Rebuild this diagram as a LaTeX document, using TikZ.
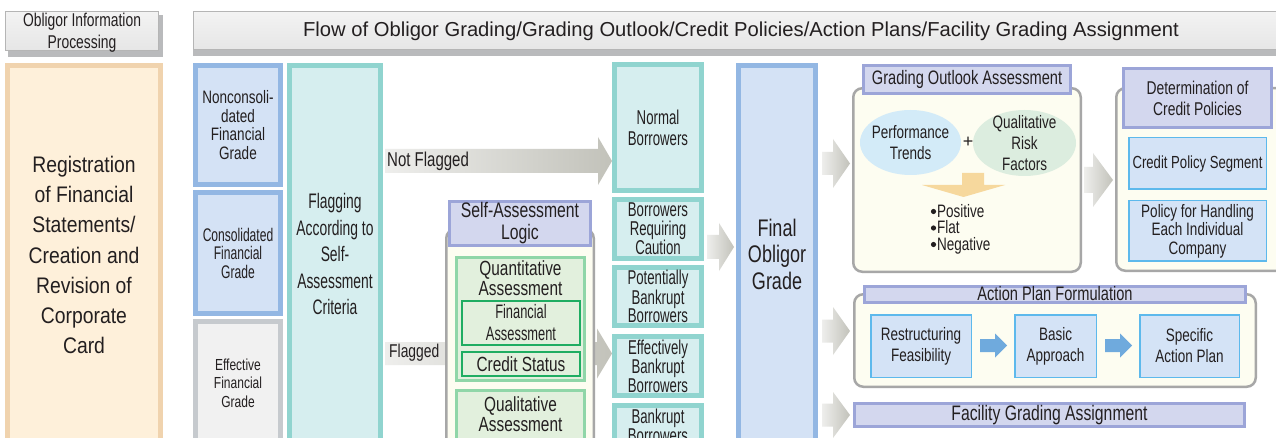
\documentclass[tikz,border=0pt]{standalone}
\usepackage{fontspec}
\setmainfont{Liberation Sans}
\newfontfamily\cnA[FakeStretch=0.86]{Liberation Sans}
\newfontfamily\cnB[FakeStretch=0.75]{Liberation Sans}
\newfontfamily\cnC[FakeStretch=0.66]{Liberation Sans}
\newcommand\fs[2]{\fontsize{#1}{#2}\selectfont}
\usetikzlibrary{calc,fit,shapes.geometric}
\definecolor{txt}{HTML}{231F20}
\definecolor{orB}{HTML}{F0D3AE}\definecolor{orF}{HTML}{FEF0DA}
\definecolor{blB}{HTML}{93B7E3}\definecolor{blF}{HTML}{D4E2F5}
\definecolor{grB}{HTML}{C6CACE}\definecolor{grF}{HTML}{F1F1F1}
\definecolor{tlB}{HTML}{90D4CF}\definecolor{tlF}{HTML}{D6EEEF}
\definecolor{lvB}{HTML}{9CA5D8}\definecolor{lvF}{HTML}{D3D7EE}
\definecolor{ctB}{HTML}{A7A7A7}\definecolor{ctF}{HTML}{FDFDF1}
\definecolor{gnB}{HTML}{90D6A8}\definecolor{gnF}{HTML}{E2F0DD}
\definecolor{dgB}{HTML}{1FAD62}
\definecolor{elB}{HTML}{D3EBF8}\definecolor{elG}{HTML}{DCEDDF}
\definecolor{dnA}{HTML}{F6D89D}
\definecolor{lbB}{HTML}{5DB9EC}\definecolor{lbF}{HTML}{D4E3F6}
\definecolor{baF}{HTML}{6FAADD}
\definecolor{hdT}{HTML}{F3F3F3}\definecolor{hdM}{HTML}{E6E6E6}
\definecolor{hdS}{HTML}{B9BABC}\definecolor{hdL}{HTML}{B5B5B5}
\definecolor{gA}{HTML}{EEEEEC}\definecolor{gB}{HTML}{C2C2BA}
% box by outer corners: inset, style, name, x0, y0, x1, y1
\newcommand\bx[7]{\node[#2, inner sep=0pt,
  fit={($(#4,#5)+(#1,#1)$) ($(#6,#7)-(#1,#1)$)}] (#3) {};}
% text centred in a named box: name, font, text
\newcommand\bt[3]{\node[tx, font={#2}] (#1-t) at (#1.center) {#3};}
% shaded block arrow: x0, xhead, xtip, ycentre, half body, half head
\newcommand\garr[6]{\shade[left color=gA, right color=gB]
  (#1,{#4-#5}) -- (#2,{#4-#5}) -- (#2,{#4-#6}) -- (#3,#4) -- (#2,{#4+#6})
  -- (#2,{#4+#5}) -- (#1,{#4+#5}) -- cycle;}
\newcommand\barr[6]{\fill[baF]
  (#1,{#4-#5}) -- (#2,{#4-#5}) -- (#2,{#4-#6}) -- (#3,#4) -- (#2,{#4+#6})
  -- (#2,{#4+#5}) -- (#1,{#4+#5}) -- cycle;}
\tikzset{
  every node/.style={text=txt},
  hdr/.style={draw=hdL, line width=1pt, top color=hdT, bottom color=hdM},
  orbox/.style={draw=orB, fill=orF, line width=5pt},
  bluebox/.style={draw=blB, fill=blF, line width=5pt},
  graybox/.style={draw=grB, fill=grF, line width=5pt},
  tealbox/.style={draw=tlB, fill=tlF, line width=5pt},
  lavbox/.style={draw=lvB, fill=lvF, line width=3pt},
  container/.style={draw=ctB, fill=ctF, line width=2.5pt, rounded corners=9pt},
  greenbox/.style={draw=gnB, fill=gnF, line width=3pt},
  dgreenbox/.style={draw=dgB, fill=gnF, line width=2pt},
  lbbox/.style={draw=lbB, fill=lbF, line width=1.5pt},
  tx/.style={align=center, inner sep=0pt},
  bulitem/.style={anchor=base west, inner sep=0pt, font={\cnB\fs{18}{18}}},
}
\begin{document}
\begin{tikzpicture}[x=1pt,y=-1pt]
\clip (0,0) rectangle (1276,438);
\fill[white] (0,0) rectangle (1276,438);
% ---- headers
\fill[hdS] (8,15) rectangle (163,57);
\bx{0.5}{hdr}{obhdr}{5}{11}{159}{51}
\node[tx, font={\cnB\fs{18.5}{22}}] (obhdr-t) at (82,33) {Obligor Information\\Processing};
\fill[hdS] (193,46) rectangle (1290,56);
\bx{0.5}{hdr}{mainhdr}{193}{11}{1290}{50}
\node[tx, font={\fs{20.2}{22}}] (maintxt) at (741,31) {Flow of Obligor Grading/Grading Outlook/Credit Policies/Action Plans/Facility Grading Assignment};
% ---- block arrows (behind boxes)
\garr{385}{598}{612}{161}{12}{24}
\garr{385}{597}{612}{353.5}{11.5}{25}
\garr{707}{719}{734}{247}{12}{24}
\garr{822}{833}{850}{163.5}{11.5}{24.5}
\garr{822}{833}{850}{331}{11.5}{24}
\garr{822}{833}{850}{415}{11.5}{23}
\garr{1084}{1093}{1113}{180}{13}{27}
% ---- left column
\bx{2.5}{orbox}{reg}{5}{63}{163}{470}
\node[tx, font={\cnA\fs{22.5}{30.3}}] (regtxt) at (84,255) {Registration\\of Financial\\Statements/\\Creation and\\Revision of\\Corporate\\Card};
\bx{2.5}{bluebox}{noncons}{193}{63}{283}{187}
\bt{noncons}{\cnB\fs{18}{18.5}}{Nonconsoli-\\dated\\Financial\\Grade}
\bx{2.5}{bluebox}{cons}{193}{190}{283}{316}
\bt{cons}{\cnC\fs{18.3}{18.5}}{Consolidated\\Financial\\Grade}
\bx{2.5}{graybox}{eff}{193}{319}{283}{470}
\node[tx, font={\cnB\fs{16}{18.5}}] (efftxt) at (238,383) {Effective\\Financial\\Grade};
\bx{2.5}{tealbox}{flag}{287}{63}{383}{470}
\node[tx, font={\cnC\fs{21}{26.5}}] (flagtxt) at (335,254) {Flagging\\According to\\Self-\\Assessment\\Criteria};
\node[anchor=base west, inner sep=0pt, font={\cnB\fs{20}{20}}] (nf) at (387,167) {Not Flagged};
\node[anchor=base west, inner sep=0pt, font={\cnB\fs{18.5}{20}}] (fl) at (389,357) {Flagged};
% ---- self-assessment logic
\bx{1.25}{container}{salc}{445}{228}{595}{470}
\bx{1.5}{lavbox}{sah}{448}{200}{592}{247}
\bt{sah}{\cnB\fs{21}{22}}{Self-Assessment\\Logic}
\bx{1.5}{greenbox}{quant}{455}{256}{586}{382}
\node[tx, font={\cnB\fs{20.5}{20}}] (quanttxt) at (520.5,278) {Quantitative\\Assessment};
\bx{1}{dgreenbox}{fin}{461}{300}{581}{346}
\bt{fin}{\cnC\fs{19.5}{22}}{Financial\\Assessment}
\bx{1}{dgreenbox}{credst}{461}{351}{581}{377}
\bt{credst}{\cnB\fs{20.5}{20}}{Credit Status}
\bx{1.5}{greenbox}{qual}{455}{389}{586}{470}
\node[tx, font={\cnB\fs{20.5}{20}}] (qualtxt) at (520.5,414) {Qualitative\\Assessment};
% ---- borrower classes
\bx{2.5}{tealbox}{normal}{612}{62}{704}{193}
\bt{normal}{\cnC\fs{20}{21}}{Normal\\Borrowers}
\bx{2.5}{tealbox}{caution}{612}{197}{704}{261}
\bt{caution}{\cnC\fs{20}{18.5}}{Borrowers\\Requiring\\Caution}
\bx{2.5}{tealbox}{potb}{612}{265}{704}{328}
\bt{potb}{\cnC\fs{20}{18.5}}{Potentially\\Bankrupt\\Borrowers}
\bx{2.5}{tealbox}{effb}{612}{334}{704}{398}
\bt{effb}{\cnC\fs{20}{18.5}}{Effectively\\Bankrupt\\Borrowers}
\bx{2.5}{tealbox}{bankb}{612}{403}{704}{470}
\node[tx, anchor=north, font={\cnC\fs{20}{18.5}}] (bankbtxt) at (658,409) {Bankrupt\\Borrowers};
% ---- final grade
\bx{2.5}{bluebox}{final}{736}{63}{818}{470}
\node[tx, font={\cnB\fs{24}{26.5}}] (finaltxt) at (777,254) {Final\\Obligor\\Grade};
% ---- grading outlook
\bx{1.25}{container}{goa}{852}{87}{1082}{273}
\bx{1.5}{lavbox}{goah}{862}{64}{1072}{95}
\bt{goah}{\cnB\fs{19.5}{20}}{Grading Outlook Assessment}
\node[ellipse, fill=elB, minimum width=101, minimum height=65, inner sep=0pt] (perf) at (910.5,142.5) {};
\node[tx, font={\cnB\fs{18}{21}}] (perf-t) at (perf.center) {Performance\\Trends};
\node[ellipse, fill=elG, minimum width=103, minimum height=66, inner sep=0pt] (qrisk) at (1024.5,143) {};
\node[tx, font={\cnB\fs{18}{21}}] (qrisk-t) at (qrisk.center) {Qualitative\\Risk\\Factors};
\node[tx, font={\fs{18}{20}}] (plus) at (968,142) {+};
\fill[dnA] (962,173) -- (984,173) -- (984,185) -- (1005,185) -- (963.5,197) -- (922,185) -- (962,185) -- cycle;
\node[bulitem] (pos) at (937,217.5) {Positive};
\node[bulitem] (flat) at (937,234) {Flat};
\node[bulitem] (neg) at (937,250.5) {Negative};
\fill[txt] (933.5,211.5) circle (2.6) (933.5,228) circle (2.6) (933.5,244.5) circle (2.6);
% ---- credit policies
\bx{1.25}{container}{cp}{1115}{87}{1295}{272}
\bx{1.5}{lavbox}{cph}{1122}{67}{1273}{129}
\bt{cph}{\cnB\fs{18.5}{21}}{Determination of\\Credit Policies}
\bx{0.75}{lbbox}{cps}{1128}{137}{1267}{190}
\bt{cps}{\cnB\fs{17.5}{20}}{Credit Policy Segment}
\bx{0.75}{lbbox}{pol}{1128}{200}{1267}{262}
\bt{pol}{\cnB\fs{18}{18.5}}{Policy for Handling\\Each Individual\\Company}
% ---- action plan
\bx{1.25}{container}{ap}{853}{293}{1257}{388}
\bx{1.5}{lavbox}{aph}{863}{285}{1247}{304}
\node[tx, font={\cnB\fs{19.5}{20}}] (aphtxt) at (1055,294) {Action Plan Formulation};
\bx{0.75}{lbbox}{restr}{870}{314}{972}{378}
\bt{restr}{\cnB\fs{18}{21}}{Restructuring\\Feasibility}
\bx{0.75}{lbbox}{basic}{1014}{314}{1097}{378}
\bt{basic}{\cnB\fs{18}{21}}{Basic\\Approach}
\bx{0.75}{lbbox}{spec}{1139}{314}{1240}{378}
\bt{spec}{\cnB\fs{18}{21}}{Specific\\Action Plan}
\barr{980}{995}{1007}{345.5}{6.5}{12}
\barr{1105}{1120}{1132}{345.5}{6.5}{12}
% ---- facility grading
\bx{1.5}{lavbox}{fac}{853}{402}{1246}{428}
\bt{fac}{\cnB\fs{21}{20}}{Facility Grading Assignment}
\end{tikzpicture}
\end{document}
